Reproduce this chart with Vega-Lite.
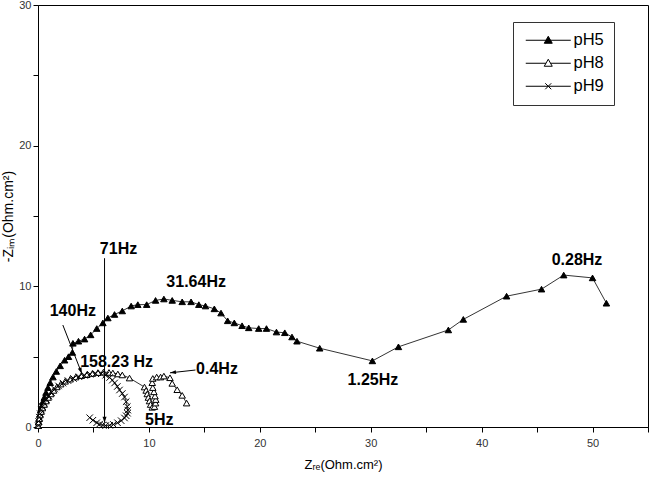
{
  "$schema": "https://vega.github.io/schema/vega-lite/v6.json",
  "width": 610,
  "height": 422,
  "autosize": {"type": "none"},
  "padding": {"left": 38, "top": 5, "right": 4, "bottom": 51},
  "background": "white",
  "config": {
    "view": {"stroke": "black", "strokeWidth": 1},
    "font": "Liberation Sans",
    "axis": {
      "grid": false,
      "labelFont": "Liberation Sans",
      "labelFontSize": 11,
      "labelColor": "#333",
      "tickColor": "black",
      "domainColor": "black",
      "tickSize": 5,
      "titleFont": "Liberation Sans",
      "titleFontWeight": "normal",
      "titleFontSize": 13,
      "titleColor": "black",
      "labelOverlap": false,
      "labelFlush": false
    },
    "legend": {
      "title": null,
      "orient": "none",
      "legendX": 475,
      "legendY": 17,
      "padding": 10,
      "fillColor": "white",
      "strokeColor": "#333",
      "symbolSize": 100,
      "symbolOpacity": 1,
      "symbolStrokeWidth": 1,
      "symbolOffset": 17,
      "labelOffset": 17,
      "rowPadding": 6,
      "labelFont": "Liberation Sans",
      "labelFontSize": 16.5,
      "labelColor": "black"
    }
  },
  "resolve": {"scale": {"shape": "independent", "fill": "independent", "stroke": "independent"}},
  "datasets": {
    "curves": [
      {"series": "pH5", "i": 1, "x": 0.02, "y": 0.1},
      {"series": "pH5", "i": 2, "x": 0.06, "y": 0.35},
      {"series": "pH5", "i": 3, "x": 0.1, "y": 0.6},
      {"series": "pH5", "i": 4, "x": 0.16, "y": 0.9},
      {"series": "pH5", "i": 5, "x": 0.24, "y": 1.2},
      {"series": "pH5", "i": 6, "x": 0.33, "y": 1.5},
      {"series": "pH5", "i": 7, "x": 0.44, "y": 1.8},
      {"series": "pH5", "i": 8, "x": 0.57, "y": 2.1},
      {"series": "pH5", "i": 9, "x": 0.72, "y": 2.45},
      {"series": "pH5", "i": 10, "x": 0.9, "y": 2.8},
      {"series": "pH5", "i": 11, "x": 1.1, "y": 3.15},
      {"series": "pH5", "i": 12, "x": 1.35, "y": 3.55},
      {"series": "pH5", "i": 13, "x": 1.65, "y": 3.95},
      {"series": "pH5", "i": 14, "x": 2.0, "y": 4.35},
      {"series": "pH5", "i": 15, "x": 2.4, "y": 4.75},
      {"series": "pH5", "i": 16, "x": 2.75, "y": 5.0},
      {"series": "pH5", "i": 17, "x": 3.1, "y": 5.3},
      {"series": "pH5", "i": 18, "x": 3.15, "y": 5.95},
      {"series": "pH5", "i": 19, "x": 3.65, "y": 6.1},
      {"series": "pH5", "i": 20, "x": 4.2, "y": 6.25},
      {"series": "pH5", "i": 21, "x": 4.75, "y": 6.55},
      {"series": "pH5", "i": 22, "x": 5.3, "y": 7.0},
      {"series": "pH5", "i": 23, "x": 5.85, "y": 7.4},
      {"series": "pH5", "i": 24, "x": 6.3, "y": 7.75},
      {"series": "pH5", "i": 25, "x": 6.9, "y": 8.0},
      {"series": "pH5", "i": 26, "x": 7.6, "y": 8.25},
      {"series": "pH5", "i": 27, "x": 8.4, "y": 8.6},
      {"series": "pH5", "i": 28, "x": 9.0, "y": 8.7},
      {"series": "pH5", "i": 29, "x": 9.8, "y": 8.7},
      {"series": "pH5", "i": 30, "x": 10.6, "y": 9.0},
      {"series": "pH5", "i": 31, "x": 11.35, "y": 9.1},
      {"series": "pH5", "i": 32, "x": 12.1, "y": 9.0},
      {"series": "pH5", "i": 33, "x": 13.0, "y": 8.9},
      {"series": "pH5", "i": 34, "x": 13.8, "y": 8.9},
      {"series": "pH5", "i": 35, "x": 14.5, "y": 8.7},
      {"series": "pH5", "i": 36, "x": 15.1, "y": 8.6},
      {"series": "pH5", "i": 37, "x": 15.9, "y": 8.4},
      {"series": "pH5", "i": 38, "x": 16.5, "y": 8.1},
      {"series": "pH5", "i": 39, "x": 17.1, "y": 7.55},
      {"series": "pH5", "i": 40, "x": 17.7, "y": 7.4},
      {"series": "pH5", "i": 41, "x": 18.4, "y": 7.2},
      {"series": "pH5", "i": 42, "x": 19.0, "y": 7.05},
      {"series": "pH5", "i": 43, "x": 19.9, "y": 7.0},
      {"series": "pH5", "i": 44, "x": 20.6, "y": 7.0},
      {"series": "pH5", "i": 45, "x": 21.5, "y": 6.75},
      {"series": "pH5", "i": 46, "x": 22.25, "y": 6.7},
      {"series": "pH5", "i": 47, "x": 22.9, "y": 6.4},
      {"series": "pH5", "i": 48, "x": 23.35, "y": 6.1},
      {"series": "pH5", "i": 49, "x": 25.4, "y": 5.6},
      {"series": "pH5", "i": 50, "x": 30.15, "y": 4.7},
      {"series": "pH5", "i": 51, "x": 32.5, "y": 5.7},
      {"series": "pH5", "i": 52, "x": 37.0, "y": 6.9},
      {"series": "pH5", "i": 53, "x": 38.35, "y": 7.65},
      {"series": "pH5", "i": 54, "x": 42.25, "y": 9.3},
      {"series": "pH5", "i": 55, "x": 45.4, "y": 9.8},
      {"series": "pH5", "i": 56, "x": 47.4, "y": 10.8},
      {"series": "pH5", "i": 57, "x": 50.0, "y": 10.6},
      {"series": "pH5", "i": 58, "x": 51.25, "y": 8.8},

      {"series": "pH8", "i": 1, "x": 0.02, "y": 0.1},
      {"series": "pH8", "i": 2, "x": 0.05, "y": 0.35},
      {"series": "pH8", "i": 3, "x": 0.1, "y": 0.6},
      {"series": "pH8", "i": 4, "x": 0.18, "y": 0.85},
      {"series": "pH8", "i": 5, "x": 0.28, "y": 1.1},
      {"series": "pH8", "i": 6, "x": 0.4, "y": 1.35},
      {"series": "pH8", "i": 7, "x": 0.55, "y": 1.6},
      {"series": "pH8", "i": 8, "x": 0.72, "y": 1.85},
      {"series": "pH8", "i": 9, "x": 0.92, "y": 2.1},
      {"series": "pH8", "i": 10, "x": 1.15, "y": 2.35},
      {"series": "pH8", "i": 11, "x": 1.4, "y": 2.6},
      {"series": "pH8", "i": 12, "x": 1.7, "y": 2.85},
      {"series": "pH8", "i": 13, "x": 2.05, "y": 3.05},
      {"series": "pH8", "i": 14, "x": 2.45, "y": 3.25},
      {"series": "pH8", "i": 15, "x": 2.9, "y": 3.4},
      {"series": "pH8", "i": 16, "x": 3.4, "y": 3.55},
      {"series": "pH8", "i": 17, "x": 3.9, "y": 3.65},
      {"series": "pH8", "i": 18, "x": 4.4, "y": 3.72},
      {"series": "pH8", "i": 19, "x": 4.9, "y": 3.8},
      {"series": "pH8", "i": 20, "x": 5.4, "y": 3.87},
      {"series": "pH8", "i": 21, "x": 5.9, "y": 3.9},
      {"series": "pH8", "i": 22, "x": 6.4, "y": 3.88},
      {"series": "pH8", "i": 23, "x": 6.75, "y": 3.84},
      {"series": "pH8", "i": 24, "x": 7.2, "y": 3.77},
      {"series": "pH8", "i": 25, "x": 7.6, "y": 3.7},
      {"series": "pH8", "i": 26, "x": 8.25, "y": 3.48},
      {"series": "pH8", "i": 27, "x": 9.6, "y": 2.84},
      {"series": "pH8", "i": 28, "x": 9.75, "y": 2.6},
      {"series": "pH8", "i": 29, "x": 9.85, "y": 2.35},
      {"series": "pH8", "i": 30, "x": 9.95, "y": 2.1},
      {"series": "pH8", "i": 31, "x": 10.05, "y": 1.85},
      {"series": "pH8", "i": 32, "x": 10.15, "y": 1.6},
      {"series": "pH8", "i": 33, "x": 10.3, "y": 1.4},
      {"series": "pH8", "i": 34, "x": 10.5, "y": 1.45},
      {"series": "pH8", "i": 35, "x": 10.6, "y": 1.7},
      {"series": "pH8", "i": 36, "x": 10.62, "y": 1.95},
      {"series": "pH8", "i": 37, "x": 10.55, "y": 2.2},
      {"series": "pH8", "i": 38, "x": 10.45, "y": 2.5},
      {"series": "pH8", "i": 39, "x": 10.35, "y": 2.8},
      {"series": "pH8", "i": 40, "x": 10.3, "y": 3.15},
      {"series": "pH8", "i": 41, "x": 10.35, "y": 3.45},
      {"series": "pH8", "i": 42, "x": 10.7, "y": 3.55},
      {"series": "pH8", "i": 43, "x": 11.05, "y": 3.55},
      {"series": "pH8", "i": 44, "x": 11.35, "y": 3.62},
      {"series": "pH8", "i": 45, "x": 11.9, "y": 3.5},
      {"series": "pH8", "i": 46, "x": 12.1, "y": 3.1},
      {"series": "pH8", "i": 47, "x": 12.55, "y": 2.65},
      {"series": "pH8", "i": 48, "x": 13.0, "y": 2.25},
      {"series": "pH8", "i": 49, "x": 13.4, "y": 1.7},

      {"series": "pH9", "i": 1, "x": 0.02, "y": 0.1},
      {"series": "pH9", "i": 2, "x": 0.06, "y": 0.4},
      {"series": "pH9", "i": 3, "x": 0.12, "y": 0.7},
      {"series": "pH9", "i": 4, "x": 0.2, "y": 0.95},
      {"series": "pH9", "i": 5, "x": 0.3, "y": 1.2},
      {"series": "pH9", "i": 6, "x": 0.42, "y": 1.45},
      {"series": "pH9", "i": 7, "x": 0.58, "y": 1.7},
      {"series": "pH9", "i": 8, "x": 0.76, "y": 1.95},
      {"series": "pH9", "i": 9, "x": 0.98, "y": 2.2},
      {"series": "pH9", "i": 10, "x": 1.22, "y": 2.45},
      {"series": "pH9", "i": 11, "x": 1.5, "y": 2.7},
      {"series": "pH9", "i": 12, "x": 1.85, "y": 2.92},
      {"series": "pH9", "i": 13, "x": 2.25, "y": 3.12},
      {"series": "pH9", "i": 14, "x": 2.7, "y": 3.3},
      {"series": "pH9", "i": 15, "x": 3.2, "y": 3.45},
      {"series": "pH9", "i": 16, "x": 3.7, "y": 3.57},
      {"series": "pH9", "i": 17, "x": 4.2, "y": 3.67},
      {"series": "pH9", "i": 18, "x": 4.7, "y": 3.75},
      {"series": "pH9", "i": 19, "x": 5.2, "y": 3.8},
      {"series": "pH9", "i": 20, "x": 5.7, "y": 3.78},
      {"series": "pH9", "i": 21, "x": 6.1, "y": 3.68},
      {"series": "pH9", "i": 22, "x": 6.46, "y": 3.52},
      {"series": "pH9", "i": 23, "x": 6.7, "y": 3.33},
      {"series": "pH9", "i": 24, "x": 6.91, "y": 3.13},
      {"series": "pH9", "i": 25, "x": 7.15, "y": 2.88},
      {"series": "pH9", "i": 26, "x": 7.35, "y": 2.63},
      {"series": "pH9", "i": 27, "x": 7.6, "y": 2.38},
      {"series": "pH9", "i": 28, "x": 7.8, "y": 2.13},
      {"series": "pH9", "i": 29, "x": 7.95, "y": 1.8},
      {"series": "pH9", "i": 30, "x": 8.05, "y": 1.45},
      {"series": "pH9", "i": 31, "x": 8.1, "y": 1.2},
      {"series": "pH9", "i": 32, "x": 8.07, "y": 0.98},
      {"series": "pH9", "i": 33, "x": 7.95, "y": 0.8},
      {"series": "pH9", "i": 34, "x": 7.8, "y": 0.64},
      {"series": "pH9", "i": 35, "x": 7.5, "y": 0.45},
      {"series": "pH9", "i": 36, "x": 7.17, "y": 0.3},
      {"series": "pH9", "i": 37, "x": 6.8, "y": 0.18},
      {"series": "pH9", "i": 38, "x": 6.46, "y": 0.12},
      {"series": "pH9", "i": 39, "x": 6.1, "y": 0.1},
      {"series": "pH9", "i": 40, "x": 5.83, "y": 0.14},
      {"series": "pH9", "i": 41, "x": 5.55, "y": 0.2},
      {"series": "pH9", "i": 42, "x": 5.29, "y": 0.3},
      {"series": "pH9", "i": 43, "x": 4.95, "y": 0.48},
      {"series": "pH9", "i": 44, "x": 4.66, "y": 0.66}
    ],
    "labels": [
      {"text": "71Hz", "x": 7.26, "y": 12.65},
      {"text": "31.64Hz", "x": 14.26, "y": 10.31},
      {"text": "140Hz", "x": 3.14, "y": 8.24},
      {"text": "158.23 Hz", "x": 7.09, "y": 4.62},
      {"text": "0.4Hz", "x": 16.14, "y": 4.12},
      {"text": "0.28Hz", "x": 48.6, "y": 11.87},
      {"text": "1.25Hz", "x": 30.2, "y": 3.34},
      {"text": "5Hz", "x": 10.94, "y": 0.5}
    ],
    "arrows": [
      {"name": "71Hz", "x": 6.0, "y": 12.0, "x2": 6.0, "y2": 0.3},
      {"name": "140Hz", "x": 2.24, "y": 7.25, "x2": 3.95, "y2": 3.8},
      {"name": "0.4Hz", "x": 14.2, "y": 4.05, "x2": 11.9, "y2": 3.85}
    ]
  },
  "layer": [
    {
      "data": {"name": "curves"},
      "mark": {"type": "line", "color": "black", "strokeWidth": 0.8},
      "encoding": {
        "x": {
          "field": "x", "type": "quantitative",
          "scale": {"domain": [0, 55], "nice": false, "zero": false},
          "axis": {
            "values": [0, 5, 10, 15, 20, 25, 30, 35, 40, 45, 50, 55],
            "labelExpr": "datum.value % 10 === 0 ? datum.label : ''",
            "labelPadding": 5,
            "title": "Zᵣₑ(Ohm.cm²)",
            "titlePadding": 10
          }
        },
        "y": {
          "field": "y", "type": "quantitative",
          "scale": {"domain": [0, 30], "nice": false, "zero": false},
          "axis": {
            "values": [0, 5, 10, 15, 20, 25, 30],
            "labelExpr": "datum.value % 10 === 0 ? datum.label : ''",
            "labelPadding": 2,
            "title": "-Zᵢₘ(Ohm.cm²)",
            "titleFontSize": 14,
            "titlePadding": 3
          }
        },
        "detail": {"field": "series"},
        "order": {"field": "i", "type": "quantitative"}
      }
    },
    {
      "data": {"name": "curves"},
      "mark": {"type": "point", "strokeWidth": 1, "opacity": 1, "size": 42},
      "encoding": {
        "x": {"field": "x", "type": "quantitative"},
        "y": {"field": "y", "type": "quantitative"},
        "shape": {
          "field": "series", "type": "nominal",
          "scale": {"domain": ["pH5", "pH8", "pH9"], "range": ["triangle-up", "triangle-up", "M-1,-1L1,1M1,-1L-1,1"]},
          "legend": null
        },
        "fill": {
          "field": "series", "type": "nominal",
          "scale": {"domain": ["pH5", "pH8", "pH9"], "range": ["black", "white", "transparent"]},
          "legend": null
        },
        "stroke": {"value": "black"}
      }
    },
    {
      "data": {"name": "curves"},
      "transform": [{"filter": "datum.i === 1"}],
      "mark": {"type": "point", "strokeWidth": 1, "opacity": 0, "size": 100},
      "encoding": {
        "x": {"field": "x", "type": "quantitative"},
        "y": {"field": "y", "type": "quantitative"},
        "shape": {
          "field": "series", "type": "nominal",
          "scale": {"domain": ["pH5", "pH8", "pH9"], "range": ["M-4.5,0H4.5M0,-0.8L0.8,0.6L-0.8,0.6Z", "M-4.5,0H-0.46M0.46,0H4.5M0,-0.8L0.8,0.6L-0.8,0.6Z", "M-4.5,0H4.5M-0.6,-0.6L0.6,0.6M-0.6,0.6L0.6,-0.6"]}
        },
        "fill": {
          "field": "series", "type": "nominal",
          "scale": {"domain": ["pH5", "pH8", "pH9"], "range": ["black", "white", "transparent"]}
        },
        "stroke": {
          "field": "series", "type": "nominal",
          "scale": {"domain": ["pH5", "pH8", "pH9"], "range": ["black", "black", "black"]}
        }
      }
    },
    {
      "data": {"name": "arrows"},
      "mark": {"type": "rule", "color": "black", "strokeWidth": 1},
      "encoding": {
        "x": {"field": "x", "type": "quantitative"},
        "y": {"field": "y", "type": "quantitative"},
        "x2": {"field": "x2"},
        "y2": {"field": "y2"}
      }
    },
    {
      "data": {"name": "arrows"},
      "transform": [{"filter": "datum.name === '71Hz'"}],
      "mark": {"type": "point", "shape": "M0,0L-0.8,-2.4L0.8,-2.4Z", "size": 25, "filled": true, "color": "black", "opacity": 1, "angle": 0},
      "encoding": {
        "x": {"field": "x2", "type": "quantitative"},
        "y": {"field": "y2", "type": "quantitative"}
      }
    },
    {
      "data": {"name": "arrows"},
      "transform": [{"filter": "datum.name === '140Hz'"}],
      "mark": {"type": "point", "shape": "M0,0L-0.8,-2.4L0.8,-2.4Z", "size": 25, "filled": true, "color": "black", "opacity": 1, "angle": -21},
      "encoding": {
        "x": {"field": "x2", "type": "quantitative"},
        "y": {"field": "y2", "type": "quantitative"}
      }
    },
    {
      "data": {"name": "arrows"},
      "transform": [{"filter": "datum.name === '0.4Hz'"}],
      "mark": {"type": "point", "shape": "M0,0L-0.8,-2.4L0.8,-2.4Z", "size": 25, "filled": true, "color": "black", "opacity": 1, "angle": 83},
      "encoding": {
        "x": {"field": "x2", "type": "quantitative"},
        "y": {"field": "y2", "type": "quantitative"}
      }
    },
    {
      "data": {"name": "labels"},
      "mark": {"type": "text", "font": "Liberation Sans", "fontWeight": "bold", "fontSize": 16, "color": "black", "align": "center", "baseline": "middle"},
      "encoding": {
        "x": {"field": "x", "type": "quantitative"},
        "y": {"field": "y", "type": "quantitative"},
        "text": {"field": "text"}
      }
    }
  ]
}
